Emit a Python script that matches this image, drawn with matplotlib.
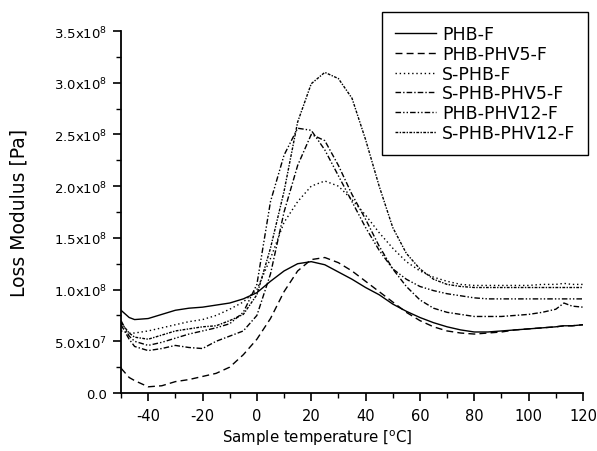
import numpy as np
import matplotlib
matplotlib.use("Agg")
import matplotlib.pyplot as plt
from matplotlib.ticker import MultipleLocator

plt.rcParams['font.family'] = ['DejaVu Sans']
plt.rcParams['axes.unicode_minus'] = False

# temperature grid [degC]
temp = [-50, -47, -45, -40, -35, -30, -25, -20, -15, -10, -5, 0, 5, 10, 15, 20,
        25, 30, 35, 40, 45, 50, 55, 60, 65, 70, 75, 80, 85, 90, 95, 100, 105,
        110, 113, 116, 120]

# loss modulus in units of 1e8 Pa
phb_f = [0.80, 0.73, 0.71, 0.72, 0.76, 0.80, 0.82, 0.83, 0.85, 0.87, 0.91,
         0.97, 1.08, 1.18, 1.25, 1.27, 1.24, 1.17, 1.10, 1.02, 0.95, 0.86,
         0.79, 0.73, 0.68, 0.64, 0.61, 0.59, 0.59, 0.60, 0.61, 0.62, 0.63,
         0.64, 0.65, 0.65, 0.66]
phb_phv5_f = [0.24, 0.15, 0.12, 0.06, 0.07, 0.11, 0.13, 0.16, 0.19, 0.25,
              0.37, 0.52, 0.72, 0.98, 1.18, 1.29, 1.31, 1.26, 1.18, 1.08,
              0.98, 0.88, 0.78, 0.70, 0.64, 0.60, 0.58, 0.57, 0.58, 0.59,
              0.61, 0.62, 0.63, 0.64, 0.65, 0.65, 0.66]
s_phb_f = [0.60, 0.58, 0.58, 0.60, 0.63, 0.66, 0.69, 0.71, 0.75, 0.81, 0.88,
           1.00, 1.30, 1.65, 1.85, 2.00, 2.05, 2.00, 1.87, 1.72, 1.55, 1.40,
           1.27, 1.18, 1.12, 1.08, 1.05, 1.04, 1.04, 1.04, 1.04, 1.04, 1.05,
           1.05, 1.06, 1.05, 1.05]
s_phb_phv5_f = [0.66, 0.52, 0.45, 0.41, 0.43, 0.46, 0.44, 0.43, 0.50, 0.55,
                0.60, 0.75, 1.15, 1.75, 2.20, 2.50, 2.44, 2.20, 1.92, 1.68,
                1.42, 1.20, 1.03, 0.90, 0.82, 0.78, 0.76, 0.74, 0.74, 0.74,
                0.75, 0.76, 0.78, 0.81, 0.87, 0.84, 0.83]
phb_phv12_f = [0.70, 0.55, 0.50, 0.46, 0.49, 0.53, 0.57, 0.60, 0.63, 0.67,
               0.78, 1.05, 1.85, 2.30, 2.56, 2.54, 2.35, 2.10, 1.85, 1.60,
               1.38, 1.20, 1.10, 1.03, 0.99, 0.96, 0.94, 0.92, 0.91, 0.91,
               0.91, 0.91, 0.91, 0.91, 0.91, 0.91, 0.91]
s_phb_phv12_f = [0.68, 0.58, 0.54, 0.52, 0.56, 0.60, 0.62, 0.64, 0.65, 0.70,
                 0.76, 0.95, 1.40, 1.95, 2.62, 2.99, 3.10, 3.04, 2.85, 2.45,
                 2.00, 1.60, 1.35, 1.20, 1.10, 1.05, 1.03, 1.02, 1.02, 1.02,
                 1.02, 1.02, 1.02, 1.02, 1.02, 1.02, 1.02]

labels = ['PHB-F', 'PHB-PHV5-F', 'S-PHB-F', 'S-PHB-PHV5-F', 'PHB-PHV12-F',
          'S-PHB-PHV12-F']
series = [phb_f, phb_phv5_f, s_phb_f, s_phb_phv5_f, phb_phv12_f, s_phb_phv12_f]
styles = ['-', (0, (5, 3)), (0, (1, 2)), (0, (4, 1.5, 1, 1.5)),
          (0, (4, 1.5, 1, 1.5, 1, 1.5)), (0, (2, 1, 1, 1))]

ytick_vals = [0, 0.5e8, 1.0e8, 1.5e8, 2.0e8, 2.5e8, 3.0e8, 3.5e8]
ytick_labels = ['0.0', r'$\mathregular{5.0x10^{7}}$', r'$\mathregular{1.0x10^{8}}$',
                r'$\mathregular{1.5x10^{8}}$', r'$\mathregular{2.0x10^{8}}$',
                r'$\mathregular{2.5x10^{8}}$', r'$\mathregular{3.0x10^{8}}$',
                r'$\mathregular{3.5x10^{8}}$']

fig = plt.figure(figsize=(5.97, 4.52), dpi=100)
ax = fig.add_axes([0.2027, 0.1283, 0.7738, 0.8009])

for vals, lab, ls in zip(series, labels, styles):
    ax.plot(temp, np.array(vals) * 1e8, color='black', linestyle=ls,
            linewidth=1.0, label=lab)

ax.set_xlim(-50, 120)
ax.set_ylim(0, 3.5e8)
ax.xaxis.set_major_locator(MultipleLocator(20))
ax.xaxis.set_minor_locator(MultipleLocator(10))
ax.set_yticks(ytick_vals)
ax.set_yticklabels(ytick_labels)
ax.yaxis.set_minor_locator(MultipleLocator(0.25e8))
ax.tick_params(which='major', direction='out', length=6, width=1.2,
               colors='black')
ax.tick_params(which='minor', direction='out', length=3.5, width=1.0)
ax.tick_params(axis='x', pad=5, labelsize=10.5)
ax.tick_params(axis='y', pad=4, labelsize=9.5)

for s in ['top', 'right']:
    ax.spines[s].set_visible(False)
for s in ['left', 'bottom']:
    ax.spines[s].set_linewidth(1.3)

ax.set_xlabel('Sample temperature [$\\mathregular{^{o}}$C]', fontsize=10.8)
ax.set_ylabel('Loss Modulus [Pa]', fontsize=13.5)
ax.xaxis.set_label_coords(0.424, -0.094)
ax.yaxis.set_label_coords(-0.200, 0.5)

leg = fig.legend(loc='upper left', bbox_to_anchor=(0.640, 0.971),
                 fontsize=12.5, handlelength=2.35, handletextpad=0.36,
                 labelspacing=0.1, borderpad=0.75, borderaxespad=0,
                 fancybox=False, framealpha=1, edgecolor='black')
leg.get_frame().set_linewidth(1.0)

plt.savefig('out.png', dpi=100)
